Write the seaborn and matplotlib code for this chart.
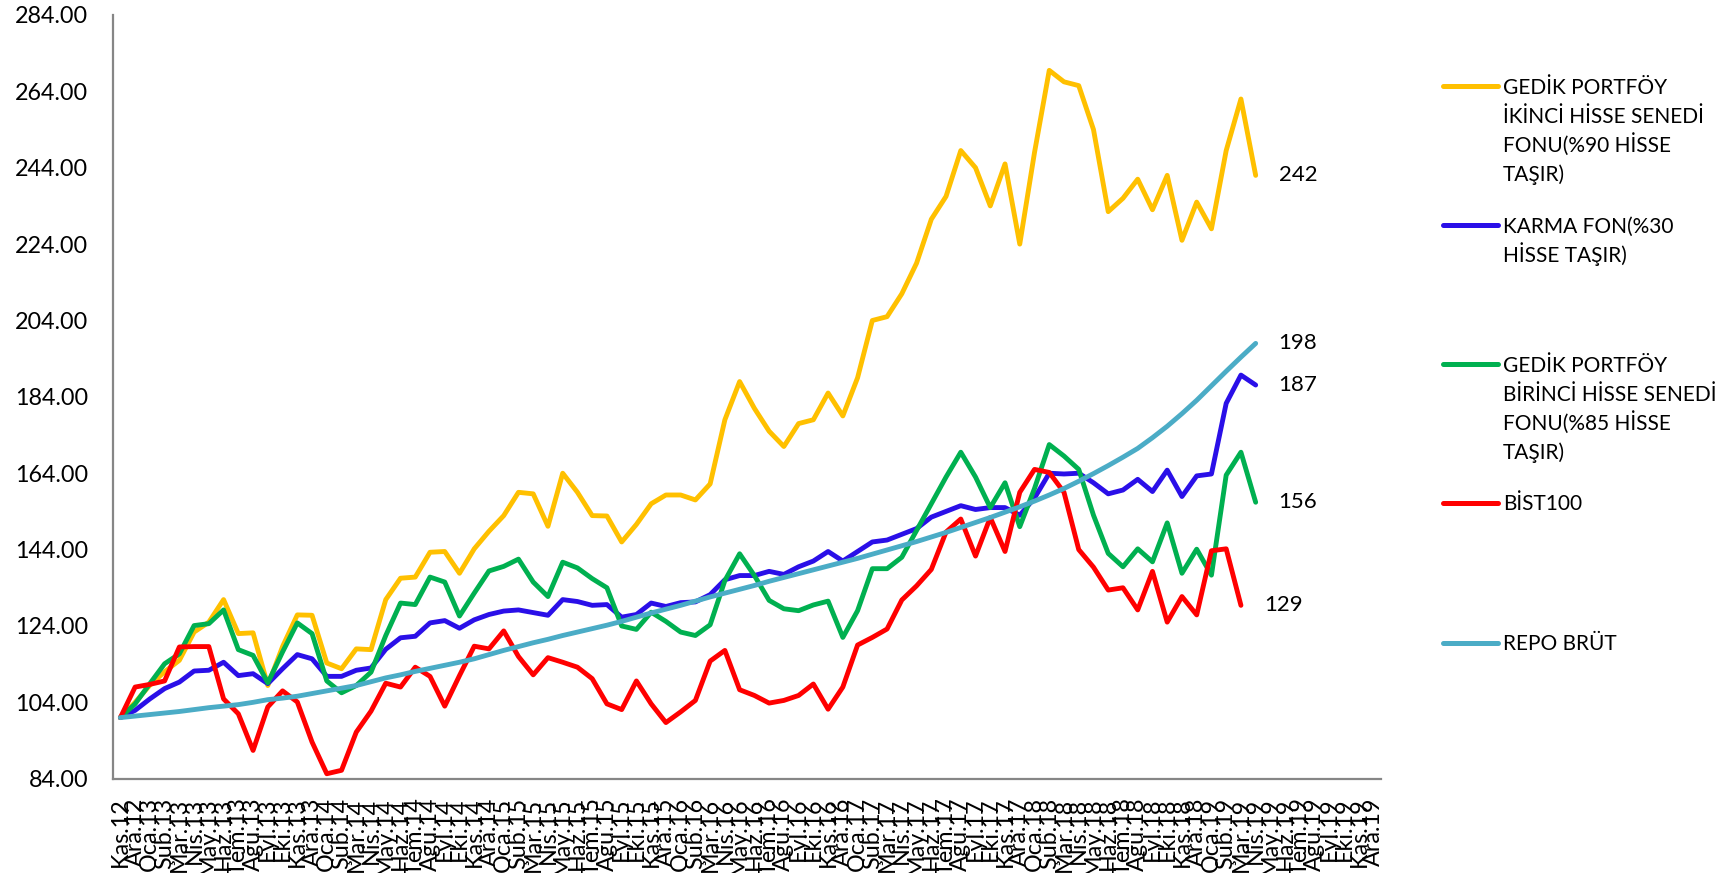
import numpy as np
import pandas as pd
import matplotlib
matplotlib.use("Agg")
import matplotlib.pyplot as plt
import seaborn as sns
from matplotlib.lines import Line2D
from matplotlib.ticker import FixedLocator, FuncFormatter

# ---------------- data ----------------
categories = [
    "Kas.12", "Ara.12",
    "Oca.13", "Şub.13", "Mar.13", "Nis.13", "May.13", "Haz.13", "Tem.13", "Ağu.13", "Eyl.13", "Eki.13", "Kas.13", "Ara.13",
    "Oca.14", "Şub.14", "Mar.14", "Nis.14", "May.14", "Haz.14", "Tem.14", "Ağu.14", "Eyl.14", "Eki.14", "Kas.14", "Ara.14",
    "Oca.15", "Şub.15", "Mar.15", "Nis.15", "May.15", "Haz.15", "Tem.15", "Ağu.15", "Eyl.15", "Eki.15", "Kas.15", "Ara.15",
    "Oca.16", "Şub.16", "Mar.16", "Nis.16", "May.16", "Haz.16", "Tem.16", "Ağu.16", "Eyl.16", "Eki.16", "Kas.16", "Ara.16",
    "Oca.17", "Şub.17", "Mar.17", "Nis.17", "May.17", "Haz.17", "Tem.17", "Ağu.17", "Eyl.17", "Eki.17", "Kas.17", "Ara.17",
    "Oca.18", "Şub.18", "Mar.18", "Nis.18", "May.18", "Haz.18", "Tem.18", "Ağu.18", "Eyl.18", "Eki.18", "Kas.18", "Ara.18",
    "Oca.19", "Şub.19", "Mar.19", "Nis.19", "May.19", "Haz.19", "Tem.19", "Ağu.19", "Eyl.19", "Eki.19", "Kas.19", "Ara.19",
]

gedik_ikinci = [
    100.0, 104.0, 108.5, 112.0, 115.0, 122.4, 125.0, 130.9, 122.0, 122.2,
    108.4, 118.6, 126.9, 126.8, 114.3, 112.8, 118.0, 117.8, 130.9, 136.5,
    136.8, 143.3, 143.5, 137.8, 144.2, 148.8, 152.9, 159.0, 158.6, 150.1,
    164.0, 159.0, 152.9, 152.8, 146.0, 150.6, 156.0, 158.3, 158.3, 157.0,
    161.2, 178.0, 188.0, 181.0, 175.0, 171.0, 177.0, 178.0, 185.0, 179.0,
    189.0, 204.0, 205.0, 211.0, 219.0, 230.5, 236.5, 248.5, 244.0, 234.0,
    245.0, 224.0, 248.0, 269.5, 266.5, 265.5, 254.0, 232.5, 236.0, 241.0,
    233.0, 242.0, 225.0, 235.0, 228.0, 248.5, 262.0, 242.0,
]

karma_fon = [
    100.0, 101.9, 104.9, 107.6, 109.3, 112.2, 112.4, 114.5, 111.0, 111.5,
    108.9, 112.8, 116.5, 115.4, 110.8, 110.8, 112.4, 113.0, 117.9, 120.9,
    121.3, 124.8, 125.4, 123.4, 125.6, 127.0, 127.9, 128.2, 127.5, 126.8,
    130.9, 130.4, 129.4, 129.6, 126.3, 127.0, 130.0, 129.1, 130.1, 130.3,
    132.2, 136.1, 137.2, 137.2, 138.3, 137.5, 139.5, 141.0, 143.5, 141.0,
    143.5, 146.0, 146.5, 148.0, 149.5, 152.5, 154.0, 155.5, 154.5, 155.0,
    155.0, 153.0, 157.5, 164.0, 163.8, 164.0, 161.5, 158.6, 159.6, 162.4,
    159.2, 164.8, 157.9, 163.3, 163.8, 182.3, 189.7, 187.1,
]

gedik_birinci = [
    100.0, 103.6, 108.9, 114.1, 116.7, 124.1, 124.6, 128.2, 117.8, 116.3,
    109.1, 117.2, 124.8, 122.0, 109.6, 106.5, 108.4, 111.9, 121.5, 130.0,
    129.6, 136.8, 135.5, 126.6, 132.6, 138.4, 139.6, 141.5, 135.5, 131.7,
    140.7, 139.2, 136.4, 134.0, 124.0, 123.1, 127.6, 125.2, 122.4, 121.5,
    124.3, 135.9, 142.9, 137.2, 130.7, 128.5, 128.0, 129.5, 130.5, 121.0,
    128.0, 139.0, 139.0, 142.0, 149.0, 156.0, 163.0, 169.5, 163.0, 155.0,
    161.5, 150.0, 160.0, 171.5, 168.5, 165.0, 153.0, 143.0, 139.5, 144.2,
    140.8, 151.0, 137.8, 144.1, 137.3, 163.5, 169.5, 156.4,
]

bist100 = [
    100.0, 108.0, 108.7, 109.6, 118.5, 118.6, 118.6, 104.9, 101.0, 91.4,
    102.8, 107.0, 104.1, 93.6, 85.3, 86.2, 96.2, 101.7, 109.0, 108.0,
    113.2, 110.8, 103.0, 111.0, 118.7, 118.0, 122.7, 116.0, 111.2, 115.7,
    114.5, 113.2, 110.2, 103.6, 102.1, 109.6, 103.6, 98.7, 101.5, 104.5,
    114.8, 117.6, 107.3, 105.8, 103.8, 104.5, 105.8, 108.8, 102.2, 108.0,
    119.0, 121.0, 123.2, 130.8, 134.5, 138.8, 148.6, 152.0, 142.3, 152.4,
    143.5, 159.0, 165.0, 164.2, 159.0, 144.0, 139.4, 133.4, 134.0, 128.2,
    138.3, 125.0, 131.7, 126.9, 143.7, 144.2, 129.4,
]

repo_brut = [
    100.0, 100.4, 100.8, 101.2, 101.6, 102.1, 102.6, 103.0, 103.4, 104.0,
    104.7, 105.1, 105.6, 106.3, 107.0, 107.7, 108.4, 109.4, 110.4, 111.2,
    112.1, 112.9, 113.7, 114.5, 115.4, 116.5, 117.6, 118.6, 119.6, 120.5,
    121.5, 122.4, 123.3, 124.2, 125.2, 126.3, 127.4, 128.4, 129.4, 130.5,
    131.6, 132.6, 133.6, 134.6, 135.7, 136.7, 137.7, 138.7, 139.7, 140.7,
    141.7, 142.8, 143.9, 145.0, 146.1, 147.3, 148.5, 149.8, 151.1, 152.4,
    153.8, 155.2, 156.7, 158.3, 160.0, 161.9, 163.9, 166.0, 168.2, 170.5,
    173.3, 176.3, 179.6, 183.1, 186.9, 190.7, 194.4, 198.0,
]

series_names = [
    "GEDİK PORTFÖY\nİKİNCİ HİSSE SENEDİ\nFONU(%90 HİSSE\nTAŞIR)",
    "KARMA FON(%30\nHİSSE TAŞIR)",
    "GEDİK PORTFÖY\nBİRİNCİ HİSSE SENEDİ\nFONU(%85 HİSSE\nTAŞIR)",
    "BİST100",
    "REPO BRÜT",
]
series_values = [gedik_ikinci, karma_fon, gedik_birinci, bist100, repo_brut]
series_colors = ["#FFC000", "#2A0FE8", "#00B050", "#FF0000", "#4BACC6"]

y_ticks = [84, 104, 124, 144, 164, 184, 204, 224, 244, 264, 284]

# ---------------- build frame ----------------
rows = []
for name, vals in zip(series_names, series_values):
    for i, v in enumerate(vals):
        rows.append({"idx": i, "value": v, "seri": name})
df = pd.DataFrame(rows)

# ---------------- figure ----------------
W, H = 1724, 873
sns.set_style("white")
plt.rcParams["font.family"] = ["Lato", "DejaVu Sans"]

fig = plt.figure(figsize=(W / 100, H / 100), dpi=100)
ax = fig.add_axes([113 / W, 1 - 778.7 / H, (1381 - 113) / W, (778.7 - 15) / H])

sns.lineplot(
    data=df, x="idx", y="value", hue="seri", hue_order=series_names,
    palette=dict(zip(series_names, series_colors)), legend=False,
    linewidth=3.5, estimator=None, sort=False, ax=ax,
    solid_joinstyle="round", solid_capstyle="round",
)

ax.set_xlim(-0.5, len(categories) - 0.5)
ax.set_ylim(y_ticks[0], y_ticks[-1])
ax.set_xlabel("")
ax.set_ylabel("")

# spines
for s in ["top", "right"]:
    ax.spines[s].set_visible(False)
for s in ["left", "bottom"]:
    ax.spines[s].set_color("#868686")
    ax.spines[s].set_linewidth(1.6)

# y axis
ax.yaxis.set_major_locator(FixedLocator(y_ticks))
ax.yaxis.set_major_formatter(FuncFormatter(lambda v, p: f"{v:.2f}"))
ax.tick_params(axis="y", which="major", direction="out", length=5.8, width=1.4,
               color="#868686", labelsize=16.8, labelcolor="black", pad=12)

# x axis: tick marks between categories, labels at category centres
ax.xaxis.set_major_locator(FixedLocator(np.arange(-0.5, len(categories), 1.0)))
ax.xaxis.set_major_formatter(FuncFormatter(lambda v, p: ""))
ax.xaxis.set_minor_locator(FixedLocator(np.arange(len(categories))))
ax.xaxis.set_minor_formatter(FuncFormatter(
    lambda v, p: categories[int(round(v))] if 0 <= int(round(v)) < len(categories) else ""))
ax.tick_params(axis="x", which="major", direction="out", length=5.8, width=1.4,
               color="#868686")
ax.tick_params(axis="x", which="minor", length=0, labelsize=16.8, pad=13.5,
               labelcolor="black")
for lab in ax.xaxis.get_minorticklabels():
    lab.set_rotation(90)
    lab.set_ha("center")
    lab.set_va("top")

# end-value labels
for name, vals in zip(series_names, series_values):
    last_i = len(vals) - 1
    ax.annotate(f"{vals[-1]:.0f}", xy=(last_i, vals[-1]), xytext=(23, 0),
                textcoords="offset pixels", ha="left", va="center",
                fontsize=16, color="black")

# legend (manual, to match layout)
legend_y = [86, 225, 364, 503, 643]
line_step = 29.3
for name, col, y0 in zip(series_names, series_colors, legend_y):
    fig.add_artist(Line2D([1443 / W, 1498 / W], [1 - y0 / H, 1 - y0 / H],
                          transform=fig.transFigure, color=col, lw=3.6,
                          solid_capstyle="round"))
    for k, line in enumerate(name.split("\n")):
        yb = y0 + k * line_step + 7.5
        fig.text(1503 / W, 1 - yb / H, line, ha="left", va="baseline",
                 fontsize=15, color="black")

fig.savefig("out.png", dpi=100, facecolor="white")
